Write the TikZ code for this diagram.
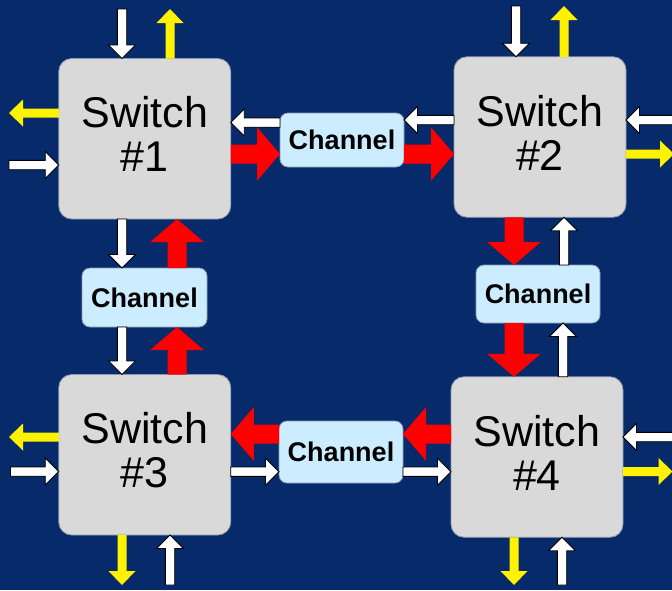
\documentclass[tikz,border=0pt]{standalone}
\usepackage{fontspec}
\setmainfont{Liberation Sans}
\usetikzlibrary{calc}

\definecolor{navy}{RGB}{6,42,106}
\definecolor{boxgray}{RGB}{217,217,217}
\definecolor{chanblue}{RGB}{204,236,255}
\definecolor{edgegray}{RGB}{140,152,172}

\tikzset{
  switchbox/.style={draw=edgegray, line width=0.8pt, fill=boxgray, rounded corners=13pt,
    inner sep=0pt, outer sep=0pt, minimum width=172pt, minimum height=160.5pt},
  switchtext/.style={align=center, inner sep=0pt, font=\fontsize{43pt}{44pt}\selectfont},
  chanbox/.style={draw=edgegray, line width=0.8pt, fill=chanblue, rounded corners=8pt,
    inner sep=0pt, outer sep=0pt, minimum width=124pt,
    font=\bfseries\fontsize{27pt}{30pt}\selectfont},
  whitearr/.style={fill=white, draw=black, line width=0.9pt, line join=miter},
  yellowarr/.style={fill=yellow},
  redarr/.style={fill=red},
}

% block arrow: style, tail, tip, shaft half width, head half width, head length
\newcommand\barrow[6]{%
  \coordinate (bA) at #2;
  \coordinate (bB) at #3;
  \coordinate (bH) at ($(bB)!#6!(bA)$);
  \path[#1] ($(bA)!#4!90:(bB)$) -- ($(bH)!#4!90:(bB)$) -- ($(bH)!#5!90:(bB)$) -- (bB)
    -- ($(bH)!#5!-90:(bB)$) -- ($(bH)!#4!-90:(bB)$) -- ($(bA)!#4!-90:(bB)$) -- cycle;}
\newcommand\warrow[2]{\barrow{whitearr}{#1}{#2}{4.7pt}{13.5pt}{13.5pt}}
\newcommand\yarrow[2]{\barrow{yellowarr}{#1}{#2}{4.5pt}{13.5pt}{14pt}}
\newcommand\rarrow[2]{\barrow{redarr}{#1}{#2}{9.5pt}{26.8pt}{23pt}}

\begin{document}
\begin{tikzpicture}[x=1pt, y=-1pt]
  \useasboundingbox (0,0) rectangle (672,590);
  \fill[navy] (0,0) rectangle (672,590);
  \clip (0,0) rectangle (672,590);

  % switches
  \node[switchbox] (s1) at (144.75,138.75) {};
  \node[switchbox] (s2) at (540,137) {};
  \node[switchbox] (s3) at (144.75,454.75) {};
  \node[switchbox] (s4) at (537,457) {};

  % channels
  \node[chanbox, minimum height=54pt] (c12) at (342,140) {Channel};
  \node[chanbox, minimum width=125pt, minimum height=59pt] (c13) at (144.5,297.5) {Channel};
  \node[chanbox, minimum height=58pt] (c24) at (538,294) {Channel};
  \node[chanbox, minimum height=62pt] (c34) at (341,452) {Channel};

  \node[switchtext] (s1t) at ([yshift=4.4pt]s1.center) {Switch\\\#1};
  \node[switchtext] (s2t) at ([yshift=4.4pt]s2.center) {Switch\\\#2};
  \node[switchtext] (s3t) at ([yshift=4.4pt]s3.center) {Switch\\\#3};
  \node[switchtext] (s4t) at ([yshift=4.4pt]s4.center) {Switch\\\#4};

  % switch 1, outer ports
  \warrow{(122,9)}{(s1.north -| 122,0)}
  \yarrow{(s1.north -| 170,0)}{(170,9)}
  \yarrow{(s1.west |- 0,113)}{(9,113)}
  \warrow{(9,165)}{(s1.west |- 0,165)}

  % switch 2, outer ports
  \warrow{(516,6)}{(s2.north -| 516,0)}
  \yarrow{(s2.north -| 564,0)}{(564,6)}
  \warrow{(690,120)}{(s2.east |- 0,120)}
  \yarrow{(s2.east |- 0,154)}{(674,154)}

  % switch 3, outer ports
  \yarrow{(s3.west |- 0,437)}{(9,437)}
  \warrow{(10.5,471.5)}{(s3.west |- 0,471.5)}
  \yarrow{(s3.south -| 122,0)}{(122,585)}
  \warrow{(170,585)}{(s3.south -| 170,0)}

  % switch 4, outer ports
  \warrow{(690,437)}{(s4.east |- 0,437)}
  \yarrow{(s4.east |- 0,471.5)}{(672.5,471.5)}
  \yarrow{(s4.south -| 514,0)}{(514,585)}
  \warrow{(562,585)}{(s4.south -| 562,0)}

  % link 1 - 2
  \warrow{(c12.west |- 0,122.5)}{(s1.east |- 0,122.5)}
  \rarrow{(s1.east |- 0,154)}{(c12.west |- 0,154)}
  \warrow{(s2.west |- 0,120)}{(c12.east |- 0,120)}
  \rarrow{(c12.east |- 0,154)}{(s2.west |- 0,154)}

  % link 1 - 3
  \warrow{(s1.south -| 122,0)}{(c13.north -| 122,0)}
  \rarrow{(c13.north -| 177,0)}{(s1.south -| 177,0)}
  \warrow{(c13.south -| 122,0)}{(s3.north -| 122,0)}
  \rarrow{(s3.north -| 177,0)}{(c13.south -| 177,0)}

  % link 2 - 4
  \rarrow{(s2.south -| 514,0)}{(c24.north -| 514,0)}
  \warrow{(c24.north -| 564,0)}{(s2.south -| 564,0)}
  \rarrow{(c24.south -| 514,0)}{(s4.north -| 514,0)}
  \warrow{(s4.north -| 563,0)}{(c24.south -| 563,0)}

  % link 3 - 4
  \rarrow{(s4.west |- 0,434)}{(c34.east |- 0,434)}
  \rarrow{(c34.west |- 0,434)}{(s3.east |- 0,434)}
  \warrow{(s3.east |- 0,471.7)}{(c34.west |- 0,471.7)}
  \warrow{(c34.east |- 0,471.7)}{(s4.west |- 0,471.7)}
\end{tikzpicture}
\end{document}
